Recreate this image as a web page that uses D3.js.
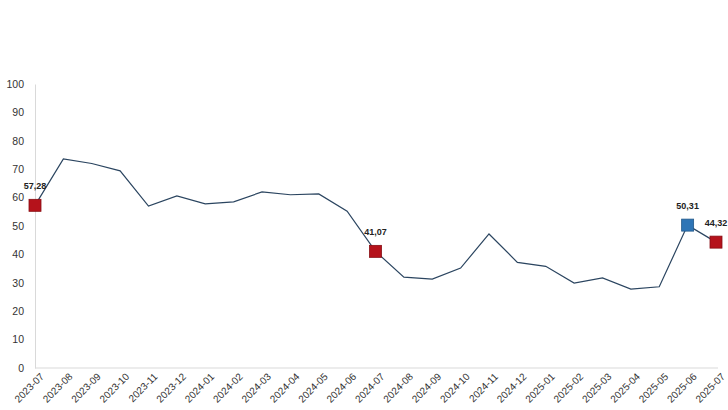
<!DOCTYPE html>
<html>
<head>
<meta charset="utf-8">
<script src="https://cdn.jsdelivr.net/npm/d3@7"></script>
<style>
  body { margin: 0; background: #fff; }
  svg { display: block; font-family: "Liberation Sans", Arial, sans-serif; }
</style>
</head>
<body>
<svg id="chart" width="728" height="410"></svg>
<script>
// monthly values
const months = [
  "2023-07", "2023-08", "2023-09", "2023-10", "2023-11", "2023-12",
  "2024-01", "2024-02", "2024-03", "2024-04", "2024-05", "2024-06",
  "2024-07", "2024-08", "2024-09", "2024-10", "2024-11", "2024-12",
  "2025-01", "2025-02", "2025-03", "2025-04", "2025-05", "2025-06", "2025-07"
];
const values = [
  57.28, 73.6, 72.0, 69.4, 57.0, 60.6,
  57.8, 58.5, 62.0, 61.0, 61.3, 55.2,
  41.07, 32.0, 31.3, 35.2, 47.2, 37.2,
  35.8, 29.9, 31.7, 27.8, 28.6, 50.31, 44.32
];
// highlighted points: index, label, colour
const markIdx = [0, 12, 23, 24];
const markLabels = ["57,28", "41,07", "50,31", "44,32"];
const markColors = ["#b5121b", "#b5121b", "#2e75b6", "#b5121b"];
const yTicks = [0, 10, 20, 30, 40, 50, 60, 70, 80, 90, 100];

const margin = { top: 84, right: 12, bottom: 42, left: 35 };
const width = 728, height = 410;

const svg = d3.select("#chart");

const x = d3.scalePoint()
  .domain(months)
  .range([margin.left, width - margin.right]);

const y = d3.scaleLinear()
  .domain([0, 100])
  .range([height - margin.bottom, margin.top]);

// Y axis
const yAxis = svg.append("g")
  .attr("transform", `translate(${margin.left},0)`)
  .call(d3.axisLeft(y).tickValues(yTicks).tickSize(0).tickPadding(11));
yAxis.select(".domain").attr("stroke", "#d9d9d9");
yAxis.selectAll("text").attr("fill", "#333").style("font-size", "10.5px");

// X axis
const xAxis = svg.append("g")
  .attr("transform", `translate(0,${height - margin.bottom})`)
  .call(d3.axisBottom(x).tickSize(0).tickPadding(6));
xAxis.select(".domain").attr("stroke", "#d9d9d9").attr("d", `M${margin.left},0H${width - 10}`);
xAxis.selectAll("text")
  .attr("fill", "#333")
  .style("font-size", "10px")
  .attr("text-anchor", "end")
  .attr("dx", "0px")
  .attr("dy", "7px")
  .attr("transform", "rotate(-45)");

// Line
const line = d3.line()
  .x((d, i) => x(months[i]))
  .y(d => y(d));

svg.append("path")
  .datum(values)
  .attr("fill", "none")
  .attr("stroke", "#2b4560")
  .attr("stroke-width", 1.2)
  .attr("d", line);

// Markers
const s = 12;
svg.selectAll("rect.mark")
  .data(markIdx)
  .enter()
  .append("rect")
  .attr("class", "mark")
  .attr("x", d => x(months[d]) - s / 2)
  .attr("y", d => y(values[d]) - s / 2)
  .attr("width", s)
  .attr("height", s)
  .attr("fill", (d, i) => markColors[i])
  .attr("stroke", (d, i) => d3.color(markColors[i]).darker(0.8))
  .attr("stroke-width", 0.8);

// Labels
svg.selectAll("text.lbl")
  .data(markIdx)
  .enter()
  .append("text")
  .attr("class", "lbl")
  .attr("x", d => x(months[d]))
  .attr("y", d => y(values[d]) - 16)
  .attr("text-anchor", "middle")
  .attr("fill", "#222")
  .style("font-size", "9px")
  .style("font-weight", "bold")
  .text((d, i) => markLabels[i]);
</script>
</body>
</html>
